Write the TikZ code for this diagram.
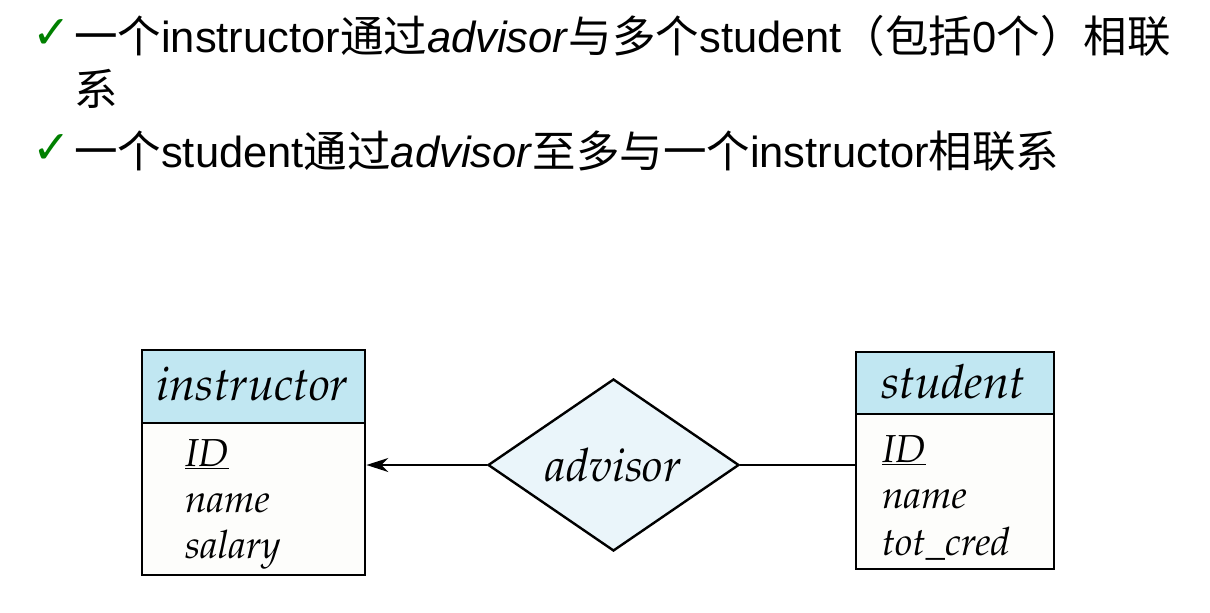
\documentclass[tikz,border=0pt]{standalone}
\usepackage[T1]{fontenc}
\usepackage{fontspec}
\setmainfont{Liberation Sans}
\newfontfamily\cjk{Noto Sans CJK SC}
\newfontfamily\symf{DejaVu Sans}
\usetikzlibrary{shapes.geometric,arrows.meta}
\newcommand\palit{\fontencoding{T1}\fontfamily{ppl}\fontseries{m}\fontshape{it}\selectfont}
\newcommand\zh[1]{{\cjk #1}}
\definecolor{hdr}{RGB}{193,231,242}
\definecolor{rel}{RGB}{234,245,250}
\definecolor{chk}{RGB}{0,128,0}
\definecolor{bodyc}{RGB}{253,253,251}
\begin{document}
\begin{tikzpicture}[x=1pt,y=-1pt,
  txt/.style={anchor=base west,inner sep=0pt,font=\fontsize{43.5}{52}\selectfont},
  chkmark/.style={anchor=base west,inner sep=0pt,text=chk,font=\symf\fontsize{46}{46}\selectfont},
  hdrbox/.style={draw=black,line width=2.4pt,fill=hdr,anchor=north west,inner sep=0pt},
  bodybox/.style={draw=black,line width=2.4pt,fill=bodyc,anchor=north west,inner sep=0pt},
  hdrtxt/.style={anchor=base,inner sep=0pt,font=\palit\fontsize{47}{52}\selectfont},
  attr/.style={anchor=base west,inner sep=0pt,font=\palit\fontsize{39}{44}\selectfont},
  relbox/.style={diamond,draw=black,line width=2.4pt,fill=rel,aspect=1.46,inner sep=0pt,
    minimum width=251pt,minimum height=172pt,font=\palit\fontsize{46}{50}\selectfont},
  conn/.style={draw=black,line width=2.2pt}
]
\path[use as bounding box] (0,0) rectangle (1210,613);
% bullets
\node[chkmark] (c1) at (32,48) {✓};
\node[chkmark] (c2) at (32,163) {✓};
\node[txt] (l1) at (74,52) {\zh{一个}instructor\zh{通过}\textit{advisor}\zh{与多个}student\zh{（包括}0\zh{个）相联}};
\node[txt] (l2) at (74,105) {\zh{系}};
\node[txt] (l3) at (74,167) {\zh{一个}student\zh{通过}\textit{advisor}\zh{至多与一个}instructor\zh{相联系}};
% instructor entity
\node[hdrbox,minimum width=223pt,minimum height=73pt] (ihead) at (141,349) {};
\node[bodybox,minimum width=223pt,minimum height=152pt] (ibody) at (141,422) {};
\node[hdrtxt] (itxt) at (252.5,400) {instructor};
\node[attr] (iid) at (185,466) {\underline{ID}};
\node[attr] (iname) at (185,512) {name};
\node[attr] (isal) at (185,558) {salary};
% student entity
\node[hdrbox,minimum width=198pt,minimum height=62pt] (shead) at (855,351) {};
\node[bodybox,minimum width=198pt,minimum height=155pt] (sbody) at (855,413) {};
\node[hdrtxt] (stxt) at (953,398) {student};
\node[attr] (sid) at (882,462) {\underline{ID}};
\node[attr] (sname) at (882,508) {name};
\node[attr] (scred) at (882,555) {tot\_cred};
% relationship
\node[relbox] (adv) at (613.5,465) {advisor};
\draw[conn,-{Stealth[length=22pt,width=14pt,inset=7pt]}] (adv.west) -- (adv.west -| ibody.east);
\draw[conn] (adv.east) -- (adv.east -| sbody.west);
\end{tikzpicture}
\end{document}
